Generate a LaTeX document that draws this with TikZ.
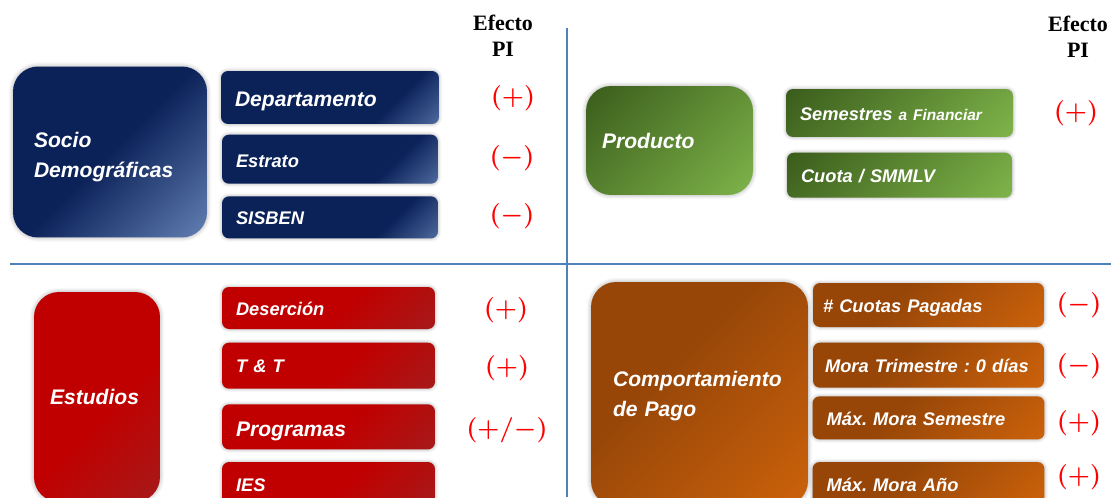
\documentclass[tikz,border=0pt]{standalone}
\usepackage{fontspec}
\setsansfont{Liberation Sans}
\newfontfamily\efont{Liberation Serif}
\usetikzlibrary{positioning,shadows.blur}

\definecolor{navyD}{HTML}{0B2259}
\definecolor{navyL}{HTML}{86A6D9}
\definecolor{grnD}{HTML}{2C4A12}
\definecolor{grnL}{HTML}{8DC653}
\definecolor{redA}{HTML}{C00000}
\definecolor{redB}{HTML}{9A2626}
\definecolor{brnD}{HTML}{974608}
\definecolor{brnL}{HTML}{DD6B0C}
\definecolor{sepblue}{HTML}{4F81BD}

\pgfdeclarehorizontalshading{navybig}{100bp}{color(0bp)=(navyD); color(50bp)=(navyD); color(100bp)=(navyL)}
\pgfdeclarehorizontalshading{navysmall}{100bp}{color(0bp)=(navyD); color(68bp)=(navyD); color(100bp)=(navyL)}
\pgfdeclarehorizontalshading{grnshade}{100bp}{color(0bp)=(grnD); color(100bp)=(grnL)}
\pgfdeclarehorizontalshading{redshade}{100bp}{color(0bp)=(redA); color(55bp)=(redA); color(100bp)=(redB)}
\pgfdeclarehorizontalshading{brnshade}{100bp}{color(0bp)=(brnD); color(40bp)=(brnD); color(100bp)=(brnL)}

\tikzset{
  grp/.style={rectangle, rounded corners=0.5cm, text=white, align=left, text depth=0pt,
    font=\frenchspacing\sffamily\bfseries\itshape\fontsize{12}{17}\selectfont, shading angle=-45,
    blur shadow={shadow xshift=0pt, shadow yshift=0pt, shadow blur radius=2.5pt, shadow opacity=35}},
  item/.style={rectangle, rounded corners=0.14cm, text=white, align=left, inner xsep=0.28cm,
    text height=8.3pt, text depth=0pt,
    font=\frenchspacing\sffamily\bfseries\itshape\fontsize{10.4}{12}\selectfont, shading angle=-45,
    blur shadow={shadow xshift=0pt, shadow yshift=0pt, shadow blur radius=2pt, shadow opacity=35}},
  big text/.style={text height=10.5pt, font=\frenchspacing\sffamily\bfseries\itshape\fontsize{12}{14}\selectfont},
  sign/.style={text=red, font=\boldmath\fontsize{15}{18}\selectfont},
  efecto/.style={align=center, font=\efont\bfseries\fontsize{12.5}{15}\selectfont},
  sepline/.style={draw=sepblue, line width=1.6pt},
}

\begin{document}
\begin{tikzpicture}[x=0.02cm, y=-0.02cm]
\clip (0,0) rectangle (1111,497);

% separators
\coordinate (hl) at (10,264);
\coordinate (hr) at (1111,264);
\coordinate (vt) at (567,28);
\coordinate (vb) at (567,497);
\draw[sepline] (hl) -- (hr);
\draw[sepline] (vt) -- (vb);

% headers
\node[efecto] (ef1) at (503,36) {Efecto\\PI};
\node[efecto] (ef2) at (1078,37) {Efecto\\PI};

% socio demograficas
\node[grp, shading=navybig, minimum width=3.88cm, minimum height=3.42cm, inner xsep=0.42cm, text width=3.04cm, text depth=13.5pt] (soc) at (110,152) {Socio\\Demográficas};
\node[item, shading=navysmall, minimum width=4.36cm, minimum height=1.06cm, text width=3.80cm, big text] (dep) at (330,97.5) {Departamento};
\node[item, shading=navysmall, minimum width=4.32cm, minimum height=0.98cm, text width=3.76cm, text height=9.8pt, below=0.2cm of dep] (est) {Estrato};
\node[item, shading=navysmall, minimum width=4.32cm, minimum height=0.84cm, text width=3.76cm, below=0.24cm of est] (sis) {SISBEN};
\node[sign] (s1) at (513,98) {$(+)$};
\node[sign] (s2) at (512,158) {$(-)$};
\node[sign] (s3) at (512,216) {$(-)$};

% producto
\node[grp, shading=grnshade, minimum width=3.34cm, minimum height=2.18cm, inner xsep=0.32cm, text width=2.70cm] (prod) at (669.5,140.5) {Producto};
\node[item, shading=grnshade, minimum width=4.54cm, minimum height=0.96cm, text width=3.98cm] (sem) at (899.5,113) {Semestres {\fontsize{8.8}{12}\selectfont a Financiar}};
\node[item, shading=grnshade, minimum width=4.50cm, minimum height=0.90cm, text width=3.94cm, below=0.3cm of sem] (cuo) {Cuota / SMMLV};
\node[sign] (s4) at (1076,113) {$(+)$};

% estudios
\node[grp, shading=redshade, minimum width=2.52cm, minimum height=4.2cm, inner xsep=0.32cm, text width=1.88cm] (estu) at (97,397) {Estudios};
\node[item, shading=redshade, minimum width=4.26cm, minimum height=0.84cm, text width=3.70cm] (des) at (328.5,308) {Deserción};
\node[item, shading=redshade, minimum width=4.26cm, minimum height=0.92cm, text width=3.70cm, below=0.26cm of des] (tyt) {T \& T};
\node[item, shading=redshade, minimum width=4.26cm, minimum height=0.90cm, text width=3.70cm, below=0.3cm of tyt, big text] (prog) {Programas};
\node[item, shading=redshade, minimum width=4.26cm, minimum height=0.88cm, text width=3.70cm, below=0.24cm of prog] (ies) {IES};
\node[sign] (s5) at (506,310) {$(+)$};
\node[sign] (s6) at (507,368) {$(+)$};
\node[sign] (s7) at (507,430) {$(+/-)$};

% comportamiento de pago
\node[grp, shading=brnshade, minimum width=4.34cm, minimum height=4.48cm, inner xsep=0.44cm, text width=3.46cm, text depth=17pt] (comp) at (699.5,394) {Comportamiento\\de Pago};
\node[item, shading=brnshade, minimum width=4.62cm, minimum height=0.88cm, inner xsep=0.2cm, text width=4.22cm] (cpag) at (928.5,305) {\# Cuotas Pagadas};
\node[item, shading=brnshade, minimum width=4.62cm, minimum height=0.90cm, inner xsep=0.24cm, text width=4.14cm, below=0.3cm of cpag] (mtri) {Mora Trimestre : 0 días};
\node[item, shading=brnshade, minimum width=4.64cm, minimum height=0.86cm, text width=4.08cm, below=0.16cm of mtri] (msem) {Máx. Mora Semestre};
\node[item, shading=brnshade, minimum width=4.64cm, minimum height=0.88cm, text width=4.08cm, below=0.44cm of msem] (mano) {Máx. Mora Año};
\node[sign] (s8) at (1079,305) {$(-)$};
\node[sign] (s9) at (1079,366) {$(-)$};
\node[sign] (s10) at (1079,423) {$(+)$};
\node[sign] (s11) at (1079,477) {$(+)$};
\end{tikzpicture}
\end{document}
